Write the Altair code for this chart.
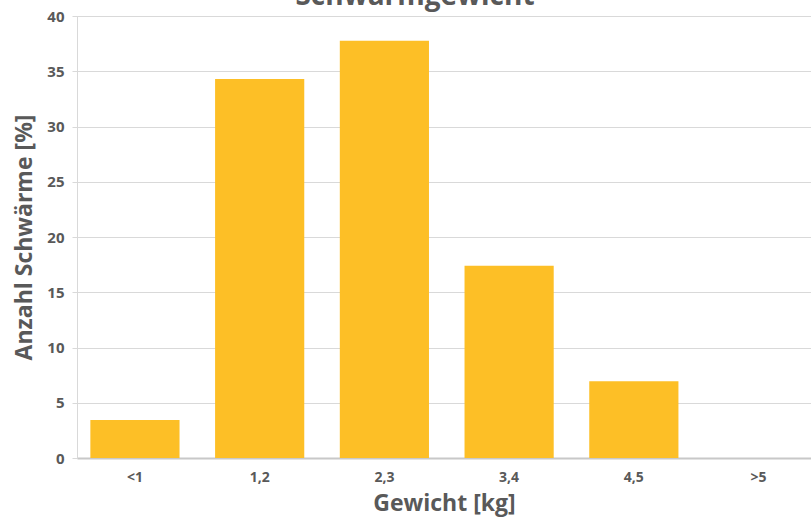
import altair as alt
import pandas as pd

categories = ["<1", "1,2", "2,3", "3,4", "4,5", ">5"]
values = [3.45, 34.3, 37.75, 17.4, 6.95, 0.0]

df = pd.DataFrame({"Gewicht": categories, "Anteil": values})

FONT = "Open Sans"
GREY = "#595959"

bars = alt.Chart(df).mark_bar(color="#FDBF26").encode(
    x=alt.X(
        "Gewicht:N",
        sort=categories,
        scale=alt.Scale(paddingInner=0.285, paddingOuter=0.085, align=0.63),
        axis=alt.Axis(
            title="Gewicht [kg]",
            labelAngle=0,
            labelFont=FONT,
            labelFontSize=14,
            labelFontWeight="bold",
            labelColor=GREY,
            labelPadding=12,
            ticks=False,
            domainColor="#C8C8C8",
            domainWidth=2,
            titleFont=FONT,
            titleFontSize=23,
            titleFontWeight="bold",
            titleColor=GREY,
            titlePadding=8,
            grid=False,
        ),
    ),
    y=alt.Y(
        "Anteil:Q",
        scale=alt.Scale(domain=[0, 40], nice=False),
        axis=alt.Axis(
            title="Anzahl Schwärme [%]",
            values=[0, 5, 10, 15, 20, 25, 30, 35, 40],
            labelFont=FONT,
            labelFontSize=15,
            labelFontWeight="bold",
            labelColor=GREY,
            labelPadding=8,
            tickSize=5,
            tickColor="#D9D9D9",
            domainColor="#D9D9D9",
            gridColor="#D9D9D9",
            grid=True,
            titleFont=FONT,
            titleFontSize=23,
            titleFontWeight="bold",
            titleColor=GREY,
            titlePadding=10,
        ),
    ),
)

chart = bars.properties(
    width=734,
    height=442,
    title=alt.TitleParams(
        "Schwarmgewicht",
        font=FONT,
        fontSize=28,
        fontWeight="bold",
        color=GREY,
        anchor="middle",
        baseline="alphabetic",
        offset=0,
        dy=24,
        dx=-29,
    ),
    autosize=alt.AutoSizeParams(type="none"),
    padding={"left": 77, "top": 16, "right": 0, "bottom": 59},
).configure_view(stroke=None).configure(background="white")

chart.save("out.html", embed_options={"renderer": "svg", "actions": False})
